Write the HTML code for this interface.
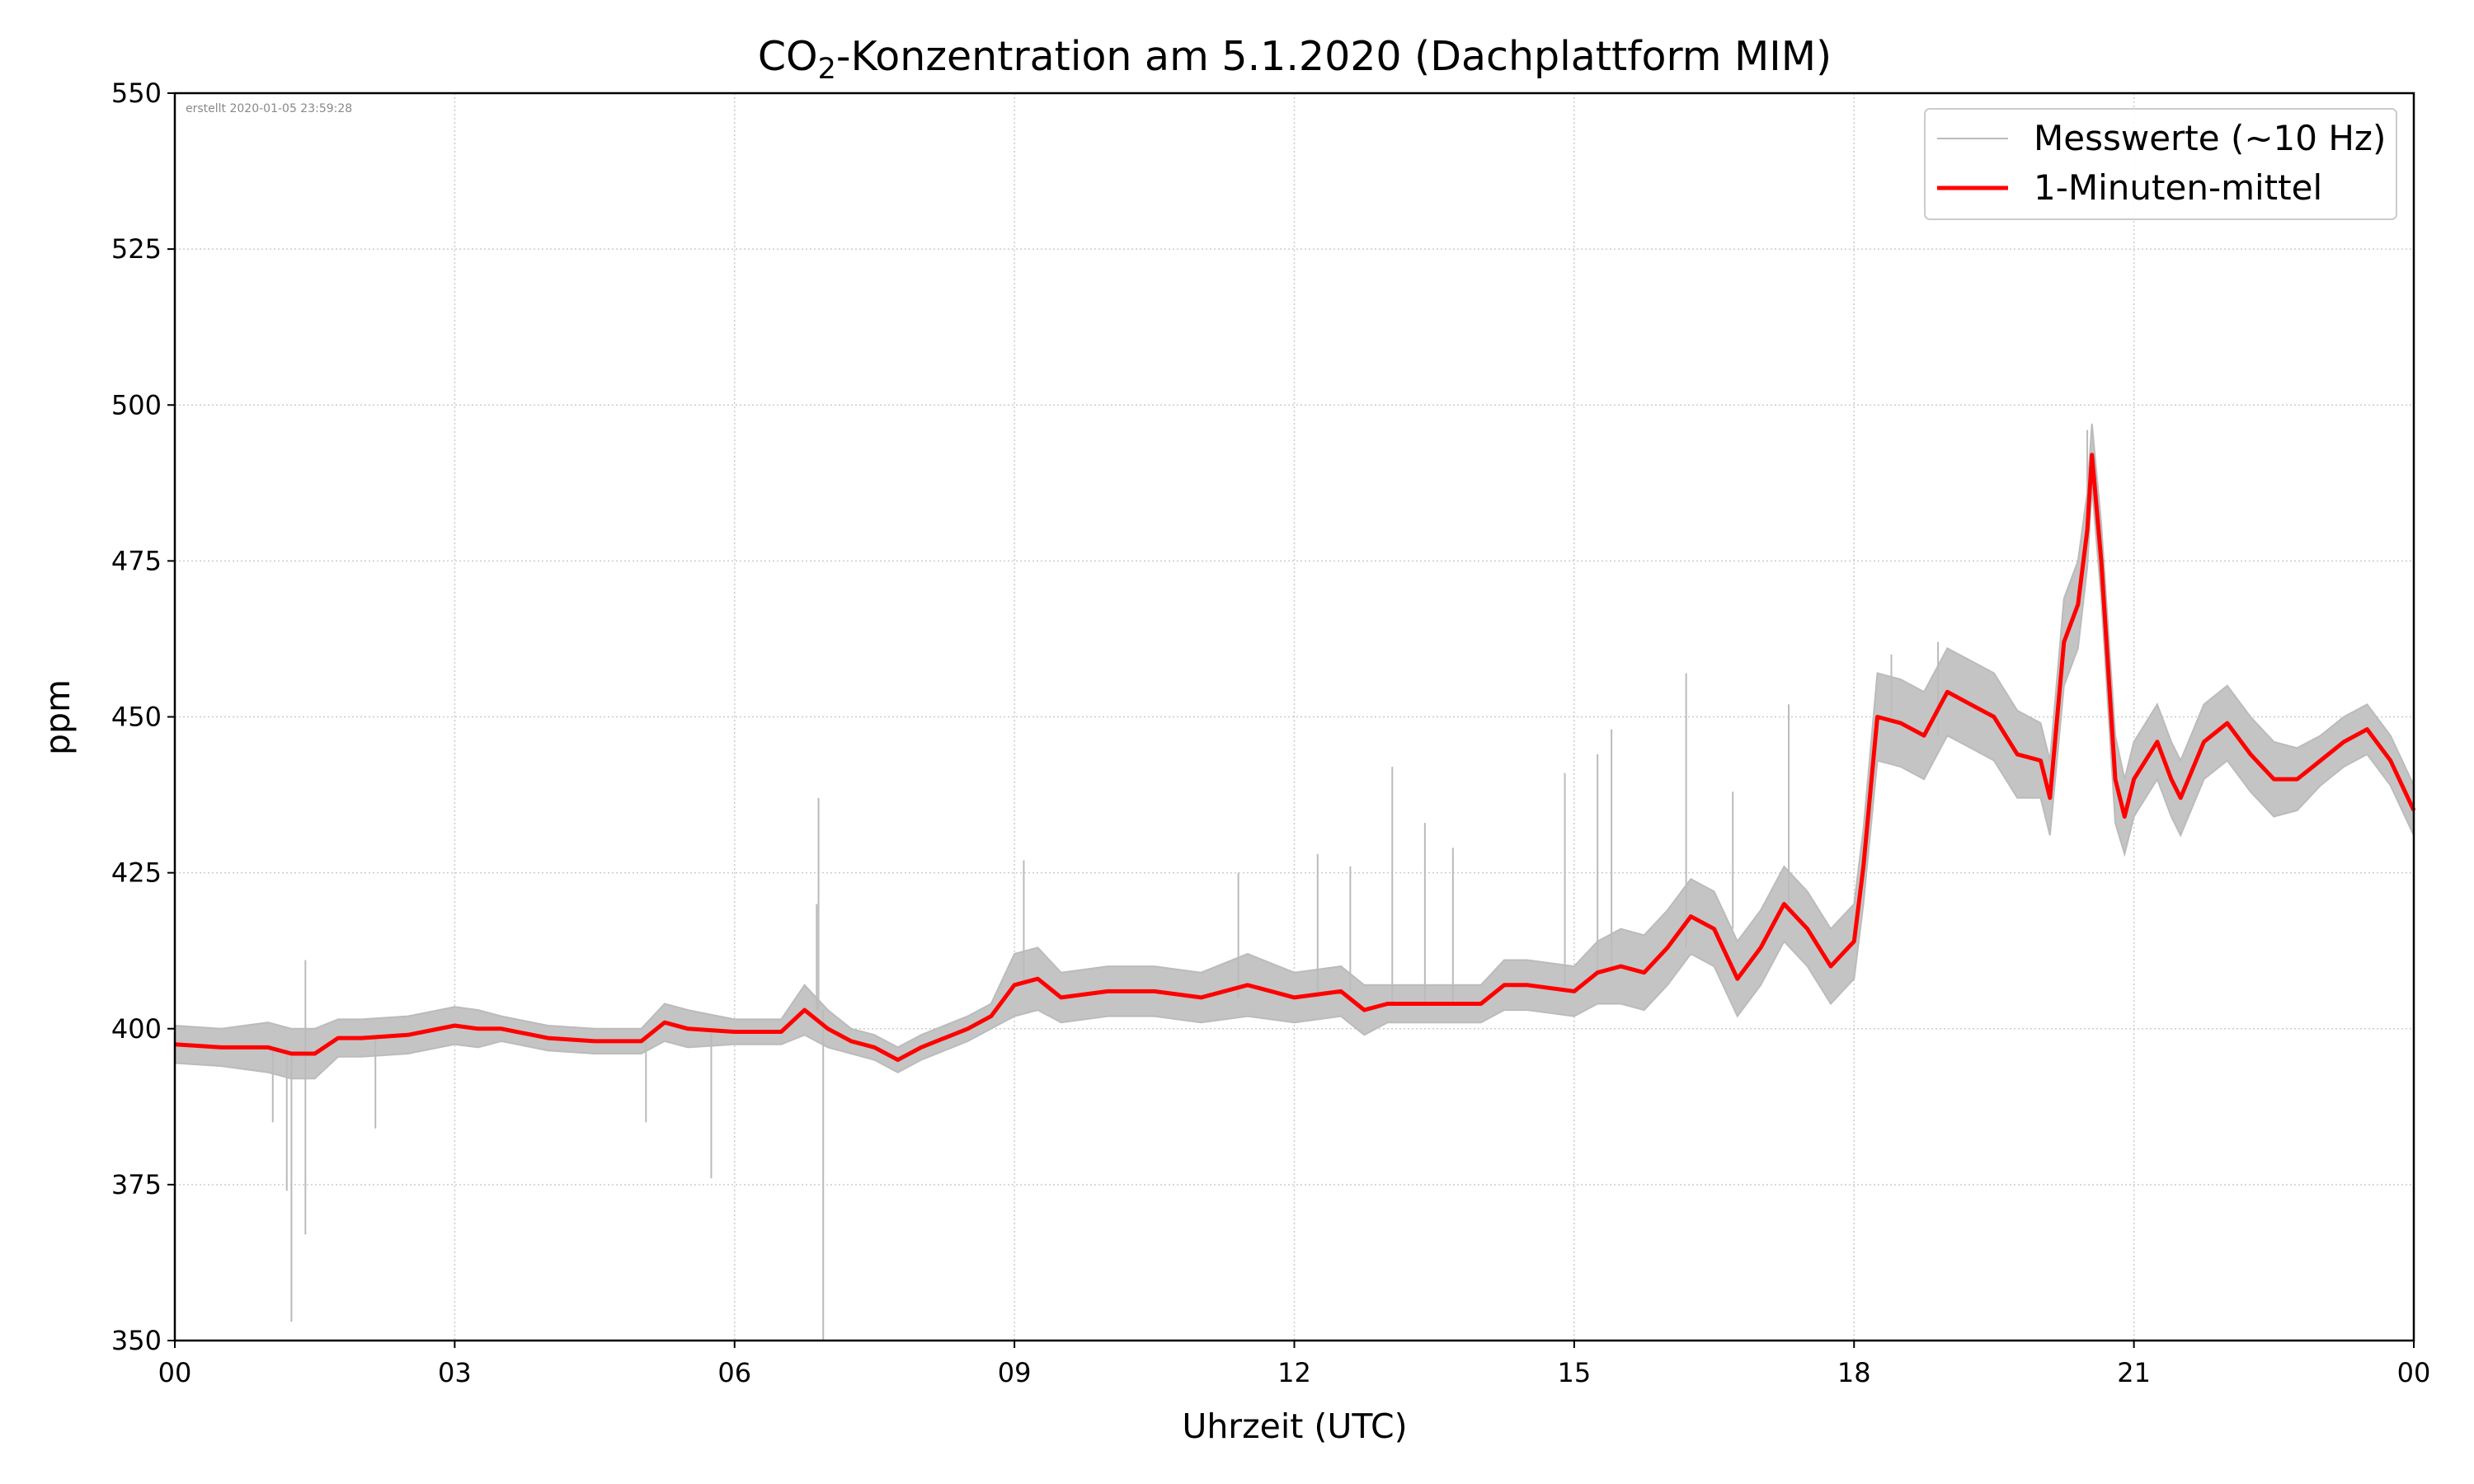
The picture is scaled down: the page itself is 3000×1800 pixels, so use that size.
<!DOCTYPE html>
<html><head><meta charset="utf-8"><style>
html,body{margin:0;padding:0;background:#fff;}
svg{display:block;font-family:"DejaVu Sans","Liberation Sans",sans-serif;}
</style></head><body>
<svg id="chart" width="3000" height="1800" viewBox="0 0 3000 1800" xmlns="http://www.w3.org/2000/svg">
<rect width="3000" height="1800" fill="#fff"/>
<text x="1570" y="85" font-size="49" text-anchor="middle">CO<tspan font-size="35" dy="10">2</tspan><tspan dy="-10">-Konzentration am 5.1.2020 (Dachplattform MIM)</tspan></text>
<g id="grid"></g>
<g id="gray"></g>
<g id="red"></g>
<text x="225" y="136" font-size="14" fill="#888">erstellt 2020-01-05 23:59:28</text>
<rect x="212" y="113" width="2715" height="1513" fill="none" stroke="#000" stroke-width="2.5"/>
<g id="axes"></g>
<text x="1570" y="1744" font-size="41" text-anchor="middle">Uhrzeit (UTC)</text>
<text x="84" y="870" font-size="41" text-anchor="middle" transform="rotate(-90 84 870)">ppm</text>
<g>
<rect x="2334" y="132" width="572" height="134" rx="6" fill="#fff" fill-opacity="0.85" stroke="#ccc" stroke-width="2"/>
<line x1="2349" y1="168" x2="2435" y2="168" stroke="#bbb" stroke-width="2"/>
<text x="2466" y="182" font-size="42">Messwerte (~10 Hz)</text>
<line x1="2349" y1="228" x2="2435" y2="228" stroke="#f00" stroke-width="5"/>
<text x="2466" y="242" font-size="42">1-Minuten-mittel</text>
</g>
</svg>
<script>
const hours=[0,0.5,1,1.25,1.5,1.75,2,2.5,3,3.25,3.5,4,4.5,5,5.25,5.5,6,6.5,6.75,7,7.25,7.5,7.75,8,8.5,8.75,9,9.25,9.5,10,10.5,11,11.5,12,12.5,12.75,13,13.5,14,14.25,14.5,15,15.25,15.5,15.75,16,16.25,16.5,16.75,17,17.25,17.5,17.75,18,18.1,18.25,18.5,18.75,19,19.25,19.5,19.75,20,20.1,20.25,20.4,20.5,20.55,20.65,20.8,20.9,21,21.25,21.4,21.5,21.75,22,22.25,22.5,22.75,23,23.25,23.5,23.75,24];
const meanVals=[397.5,397,397,396,396,398.5,398.5,399,400.5,400,400,398.5,398,398,401,400,399.5,399.5,403,400,398,397,395,397,400,402,407,408,405,406,406,405,407,405,406,403,404,404,404,407,407,406,409,410,409,413,418,416,408,413,420,416,410,414,426,450,449,447,454,452,450,444,443,437,462,468,480,492,475,440,434,440,446,440,437,446,449,444,440,440,443,446,448,443,435];
const spread=[3,3,4,4,4,3,3,3,3,3,2,2,2,2,3,3,2,2,4,3,2,2,2,2,2,2,5,5,4,4,4,4,5,4,4,4,3,3,3,4,4,4,5,6,6,6,6,6,6,6,6,6,6,6,6,7,7,7,7,7,7,7,6,6,7,7,6,5,6,7,6,6,6,6,6,6,6,6,6,5,4,4,4,4,4];
const spikeHours=[1.05,1.2,1.25,1.4,1.4,2.15,5.05,5.75,6.9,6.95,6.88,9.1,11.4,12.25,13.05,13.4,13.7,14.9,15.25,15.4,16.2,16.7,17.3,18.4,20.5,18.9,12.6];
const spikeVals=[385,374,353,367,411,384,385,376,437,350,420,427,425,428,442,433,429,441,444,448,457,438,452,460,496,462,426];
const yTicks=[350,375,400,425,450,475,500,525,550];
const xTickHours=[0,3,6,9,12,15,18,21,24];
const xTickLabels=["00","03","06","09","12","15","18","21","00"];
const L=212,R=2927,T=113,B=1626;
const X=h=>L+(h/24)*(R-L);
const Y=v=>B-(v-350)/200*(B-T);
const NS="http://www.w3.org/2000/svg";
function mk(tag,attrs,parent){const e=document.createElementNS(NS,tag);for(const k in attrs)e.setAttribute(k,attrs[k]);parent.appendChild(e);return e;}
const grid=document.getElementById('grid'),axes=document.getElementById('axes');
yTicks.forEach(v=>{
  const g=mk('line',{x1:L,x2:R,y1:Y(v),y2:Y(v),stroke:'#ccc','stroke-width':1.5,'stroke-dasharray':'2,3'},grid);
  
  
  const t=mk('line',{x1:L-9,x2:L,y1:Y(v),y2:Y(v),stroke:'#000','stroke-width':2},axes);
  
  
  const lb=mk('text',{x:L-16,y:Y(v)+11,'font-size':32,'text-anchor':'end'},axes);
  lb.textContent=v;
  
  
});
xTickHours.forEach((h,i)=>{
  const g=mk('line',{x1:X(h),x2:X(h),y1:T,y2:B,stroke:'#ccc','stroke-width':1.5,'stroke-dasharray':'2,3'},grid);
  
  
  const t=mk('line',{x1:X(h),x2:X(h),y1:B,y2:B+9,stroke:'#000','stroke-width':2},axes);
  
  
  const lb=mk('text',{x:X(h),y:B+50,'font-size':32,'text-anchor':'middle'},axes);
  lb.textContent=xTickLabels[i];
  
  
});
const gray=document.getElementById('gray');
let up='',dn='';
hours.forEach((h,i)=>{up+=(i?'L':'M')+X(h).toFixed(1)+','+Y(meanVals[i]+spread[i]).toFixed(1);});
for(let i=hours.length-1;i>=0;i--){dn+='L'+X(hours[i]).toFixed(1)+','+Y(meanVals[i]-spread[i]).toFixed(1);}
const band=mk('path',{d:up+dn+'Z',fill:'#c4c4c4',stroke:'#bbb','stroke-width':2},gray);


spikeHours.forEach((h,i)=>{
  let k=0;for(let j=0;j<hours.length;j++){if(hours[j]<=h)k=j;}
  const s=mk('line',{x1:X(h),x2:X(h),y1:Y(meanVals[k]),y2:Y(spikeVals[i]),stroke:'#bbb','stroke-width':2},gray);
  
  
});
const red=document.getElementById('red');
const p=mk('polyline',{points:hours.map((h,i)=>X(h).toFixed(1)+','+Y(meanVals[i]).toFixed(1)).join(' '),fill:'none',stroke:'#f00','stroke-width':5,'stroke-linejoin':'round'},red);


</script>
</body></html>
